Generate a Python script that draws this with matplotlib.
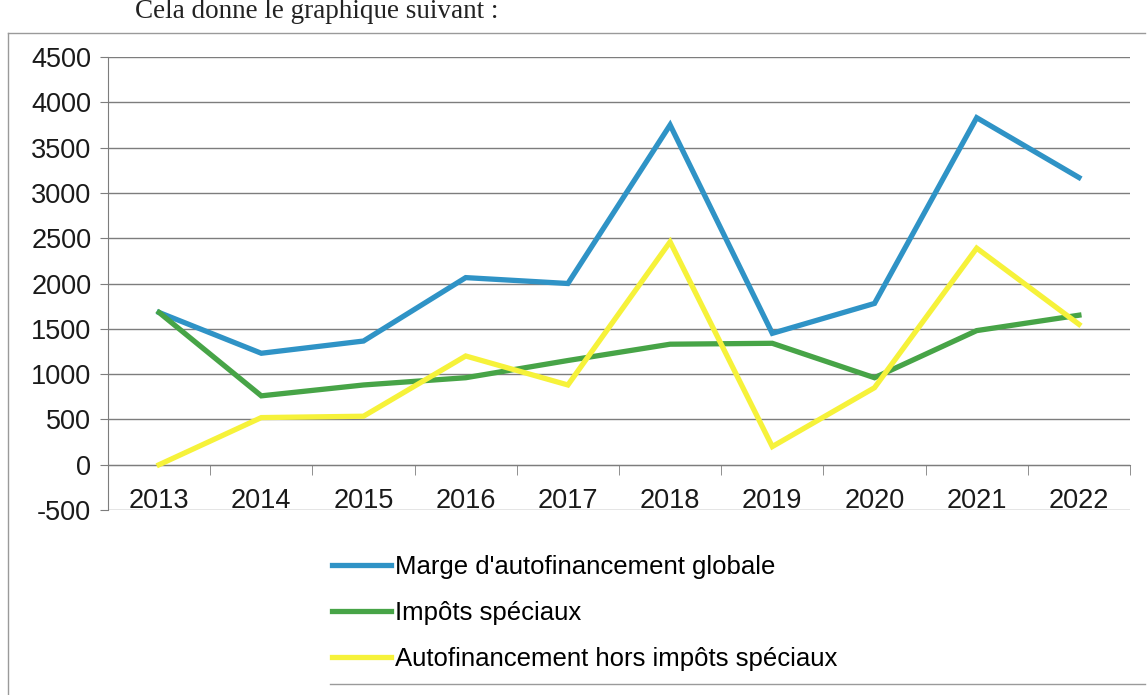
import matplotlib
matplotlib.use("Agg")
import matplotlib.pyplot as plt
from matplotlib.lines import Line2D

# Values
years = ["2013", "2014", "2015", "2016", "2017", "2018", "2019", "2020", "2021", "2022"]
marge_globale = [1680, 1230, 1365, 2065, 2000, 3750, 1450, 1780, 3830, 3170]
impots_speciaux = [1680, 760, 880, 960, 1150, 1330, 1340, 960, 1480, 1650]
hors_impots = [0, 520, 535, 1200, 880, 2460, 200, 850, 2390, 1550]
y_ticks = [-500, 0, 500, 1000, 1500, 2000, 2500, 3000, 3500, 4000, 4500]

plt.rcParams['font.family'] = ['Liberation Sans', 'DejaVu Sans']

fig = plt.figure(figsize=(11.47, 6.95), dpi=100)
W, H = 1147, 695

# caption above the chart (page text)
fig.text(135 / W, 1 - 12 / H, "Cela donne le graphique suivant :", family="Liberation Serif",
         fontsize=19.5, ha="left", va="center", color="#222222")

# chart frame
frame_col = "#9a9a9a"
fig.add_artist(Line2D([8 / W, 1 - 2 / W], [1 - 33 / H, 1 - 33 / H], color=frame_col, lw=1))
fig.add_artist(Line2D([8 / W, 8 / W], [1 - 33 / H, 0], color=frame_col, lw=1))
fig.add_artist(Line2D([330 / W, 1 - 2 / W], [1 - 684 / H, 1 - 684 / H], color=frame_col, lw=1))

ax = fig.add_axes([108 / W, 1 - 510 / H, (1130 - 108) / W, (510 - 57) / H])
x = list(range(len(years)))

ax.plot(x, marge_globale, color="#2f93c6", lw=3.8, solid_joinstyle="miter",
        label="Marge d'autofinancement globale", zorder=3)
ax.plot(x, impots_speciaux, color="#47a447", lw=3.8, solid_joinstyle="miter",
        label="Impôts spéciaux", zorder=3)
ax.plot(x, hors_impots, color="#f6f23a", lw=3.8, solid_joinstyle="miter",
        label="Autofinancement hors impôts spéciaux", zorder=3)

ax.set_xlim(-0.5, len(years) - 0.5)
ax.set_ylim(-500, 4500)
ax.set_yticks(y_ticks)
ax.set_yticklabels([str(v) for v in y_ticks], fontsize=19.5, color="#1a1a1a")
ax.grid(axis="y", color="#7d7d7d", lw=1)
ax.set_axisbelow(True)

for side in ["top", "right"]:
    ax.spines[side].set_visible(False)
ax.spines["left"].set_color("#7d7d7d")
ax.spines["bottom"].set_position(("data", 0))
ax.spines["bottom"].set_color("#7d7d7d")

ax.set_xticks(x)
ax.set_xticklabels(years, fontsize=19.5, color="#1a1a1a")
ax.set_xticks([i - 0.5 for i in range(len(years) + 1)], minor=True)
ax.tick_params(axis="x", which="major", length=0, pad=17)
ax.tick_params(axis="x", which="minor", length=7, color="#7d7d7d", direction="out")
ax.tick_params(axis="y", length=6, color="#7d7d7d", pad=6)

leg = fig.legend(loc="upper left", bbox_to_anchor=(322 / W, 1 - 545 / H), frameon=False,
                 fontsize=18.5, handlelength=2.3, handletextpad=0.15, labelspacing=0.85,
                 borderaxespad=0)

fig.savefig("out.png", dpi=100)
